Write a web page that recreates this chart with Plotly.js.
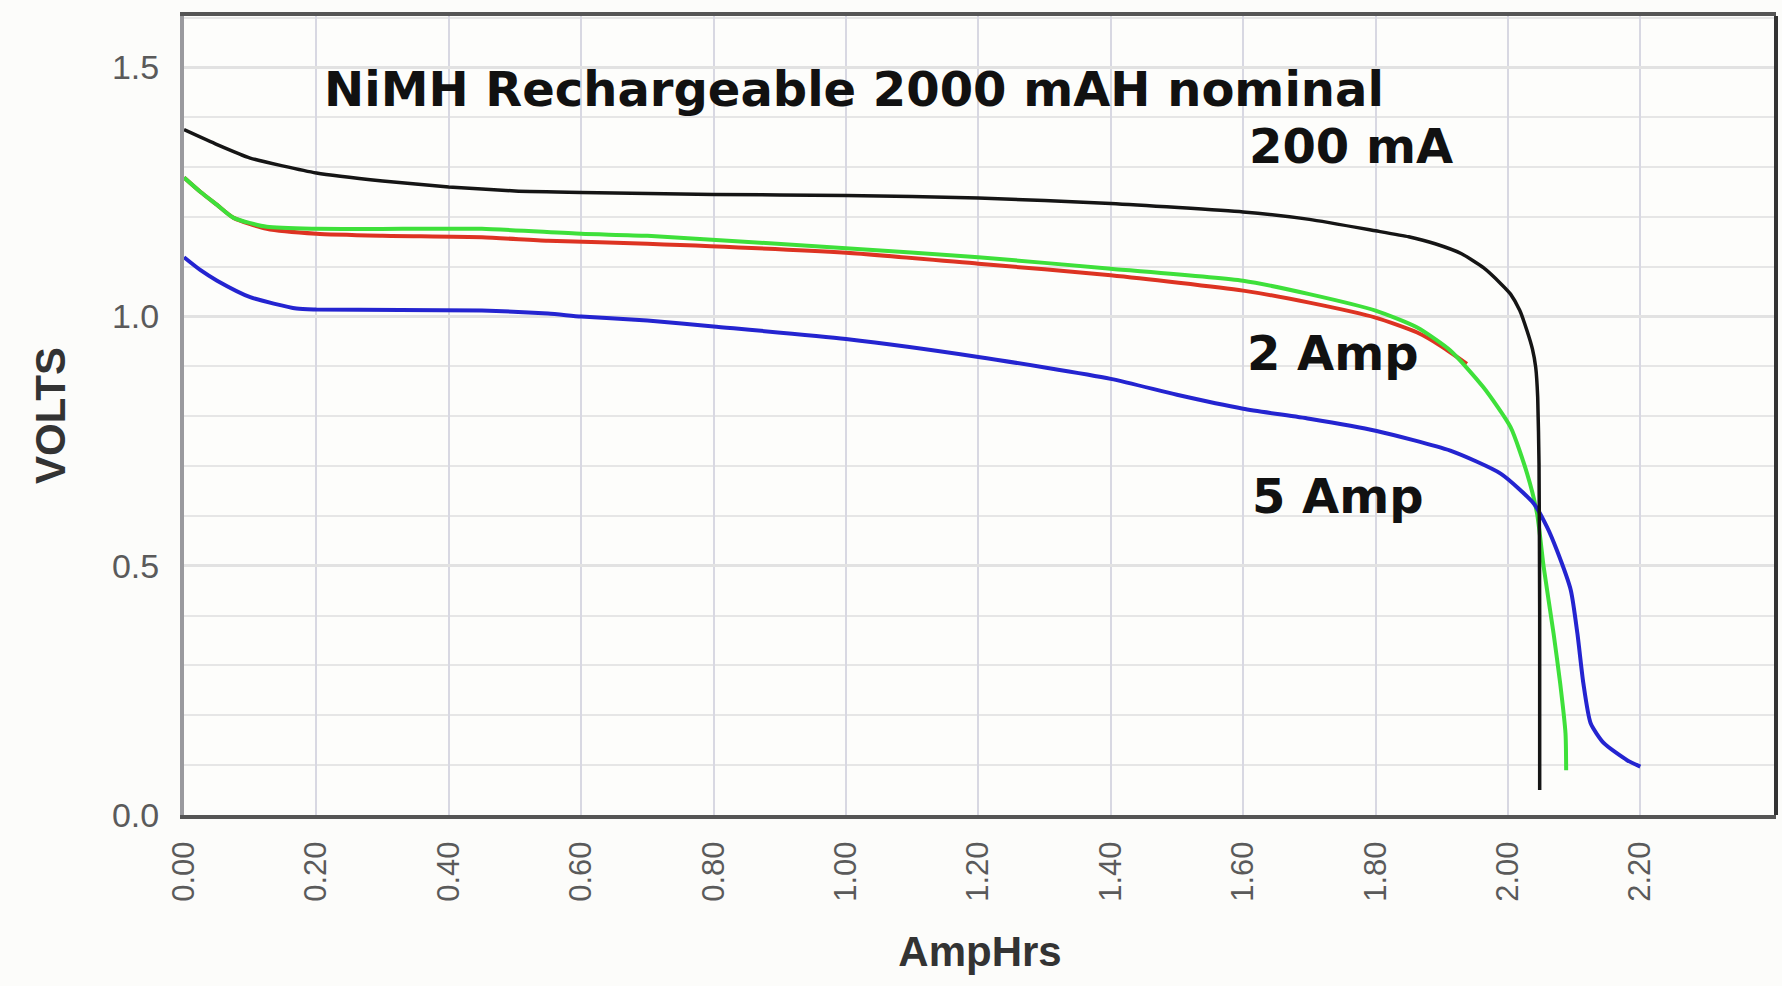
<!DOCTYPE html>
<html>
<head>
<meta charset="utf-8">
<script src="https://cdn.plot.ly/plotly-3.0.1.min.js"></script>
<style>
  html, body { margin: 0; padding: 0; background: #fcfcfa; }
  #chart { width: 1782px; height: 986px; }
</style>
</head>
<body>
<div id="chart"></div>
<script>
// ---- Data ----
const black200mA_x = [0.00, 0.05, 0.10, 0.20, 0.30, 0.40, 0.50, 0.60, 0.80, 1.00, 1.20, 1.40, 1.60, 1.70, 1.80, 1.85, 1.89, 1.93, 1.963, 1.99, 2.004, 2.018, 2.029, 2.037, 2.042, 2.045, 2.047, 2.048, 2.048];
const black200mA_y = [1.375, 1.345, 1.318, 1.288, 1.272, 1.260, 1.252, 1.249, 1.245, 1.243, 1.238, 1.227, 1.210, 1.195, 1.172, 1.160, 1.146, 1.126, 1.098, 1.065, 1.045, 1.012, 0.971, 0.935, 0.898, 0.838, 0.705, 0.400, 0.050];

const red2A_x = [0.00, 0.025, 0.05, 0.075, 0.125, 0.20, 0.30, 0.45, 0.55, 0.70, 1.00, 1.20, 1.40, 1.60, 1.70, 1.80, 1.863, 1.90, 1.938];
const red2A_y = [1.279, 1.250, 1.224, 1.198, 1.176, 1.166, 1.162, 1.159, 1.152, 1.146, 1.128, 1.106, 1.083, 1.052, 1.028, 0.998, 0.968, 0.940, 0.905];

const green_x = [0.00, 0.025, 0.05, 0.075, 0.125, 0.20, 0.33, 0.45, 0.60, 0.70, 1.00, 1.20, 1.40, 1.60, 1.70, 1.80, 1.863, 1.913, 1.963, 2.004, 2.029, 2.044, 2.054, 2.069, 2.079, 2.087, 2.088];
const green_y = [1.279, 1.250, 1.224, 1.198, 1.180, 1.176, 1.176, 1.176, 1.166, 1.162, 1.137, 1.119, 1.096, 1.072, 1.045, 1.012, 0.978, 0.932, 0.858, 0.778, 0.685, 0.605, 0.498, 0.364, 0.264, 0.164, 0.090];

const blue5A_x = [0.00, 0.025, 0.05, 0.10, 0.17, 0.20, 0.45, 0.55, 0.60, 0.70, 0.80, 1.00, 1.20, 1.40, 1.50, 1.60, 1.70, 1.80, 1.913, 1.989, 2.039, 2.059, 2.074, 2.095, 2.105, 2.114, 2.125, 2.145, 2.18, 2.20];
const blue5A_y = [1.119, 1.093, 1.072, 1.039, 1.016, 1.014, 1.012, 1.006, 1.000, 0.992, 0.980, 0.955, 0.919, 0.875, 0.843, 0.815, 0.795, 0.771, 0.731, 0.685, 0.625, 0.578, 0.531, 0.451, 0.364, 0.264, 0.184, 0.144, 0.110, 0.097];

const xTickVals = [0.0, 0.2, 0.4, 0.6, 0.8, 1.0, 1.2, 1.4, 1.6, 1.8, 2.0, 2.2];
const xTickText = ["0.00", "0.20", "0.40", "0.60", "0.80", "1.00", "1.20", "1.40", "1.60", "1.80", "2.00", "2.20"];
const yTickVals = [0.0, 0.5, 1.0, 1.5];
const yTickText = ["0.0", "0.5", "1.0", "1.5"];

const chartTitle = "NiMH Rechargeable 2000 mAH nominal";
const seriesLabels = ["200 mA", "2 Amp", "5 Amp"];
const xTitle = "AmpHrs";
const yTitle = "VOLTS";

// ---- Traces ----
const sm = 0.6;
const traces = [
  { x: red2A_x, y: red2A_y, mode: "lines", line: { color: "#dd3322", width: 4, shape: "spline", smoothing: sm }, hoverinfo: "skip" },
  { x: green_x, y: green_y, mode: "lines", line: { color: "#3ee03a", width: 4, shape: "spline", smoothing: sm }, hoverinfo: "skip" },
  { x: blue5A_x, y: blue5A_y, mode: "lines", line: { color: "#2424d0", width: 4, shape: "spline", smoothing: sm }, hoverinfo: "skip" },
  { x: black200mA_x, y: black200mA_y, mode: "lines", line: { color: "#151515", width: 3.5, shape: "spline", smoothing: 0.5 }, hoverinfo: "skip" }
];

const annFont = { family: "DejaVu Sans", size: 48, color: "#111111", weight: "bold" };
const layout = {
  width: 1782, height: 986,
  paper_bgcolor: "#fcfcfa",
  plot_bgcolor: "#fdfdfb",
  showlegend: false,
  margin: { l: 184, r: 6, t: 16, b: 171 },
  xaxis: {
    range: [0, 2.405],
    tickvals: xTickVals, ticktext: xTickText,
    tickangle: -90,
    tickfont: { family: "Liberation Sans, Arial", size: 31, color: "#5a5a5a" },
    ticks: "", ticklabelstandoff: 10,
    showgrid: true, gridcolor: "#d8d8e2", gridwidth: 2,
    showline: true, linecolor: "#555555", linewidth: 4, mirror: true,
    zeroline: false,
    title: { text: xTitle, font: { family: "Liberation Sans, Arial", size: 42, color: "#333333", weight: "bold" }, standoff: 37 }
  },
  yaxis: {
    range: [0, 1.603],
    tickvals: yTickVals, ticktext: yTickText,
    tickfont: { family: "Liberation Sans, Arial", size: 34, color: "#5a5a5a" },
    ticks: "", ticklabelstandoff: 14,
    showgrid: true, gridcolor: "#e2e2e2", gridwidth: 3,
    minor: { dtick: 0.1, tick0: 0, showgrid: true, gridcolor: "#e6e6e6", gridwidth: 2 },
    showline: true, linecolor: "#9a9a9e", linewidth: 4,
    zeroline: false,
    title: { text: yTitle, font: { family: "Liberation Sans, Arial", size: 42, color: "#333333", weight: "bold" }, standoff: 34 }
  },
  shapes: [
    { type: "line", xref: "paper", yref: "paper", x0: 1, x1: 1, y0: 0, y1: 1, line: { color: "#333333", width: 4 } }
  ],
  annotations: [
    { text: chartTitle, x: 0.208, y: 1.457, xref: "x", yref: "y", xanchor: "left", yanchor: "middle", showarrow: false, font: annFont },
    { text: seriesLabels[0], x: 1.606, y: 1.343, xref: "x", yref: "y", xanchor: "left", yanchor: "middle", showarrow: false, font: annFont },
    { text: seriesLabels[1], x: 1.603, y: 0.926, xref: "x", yref: "y", xanchor: "left", yanchor: "middle", showarrow: false, font: annFont },
    { text: seriesLabels[2], x: 1.611, y: 0.641, xref: "x", yref: "y", xanchor: "left", yanchor: "middle", showarrow: false, font: annFont }
  ]
};

Plotly.newPlot("chart", traces, layout, { staticPlot: true, displayModeBar: false });
</script>
</body>
</html>
